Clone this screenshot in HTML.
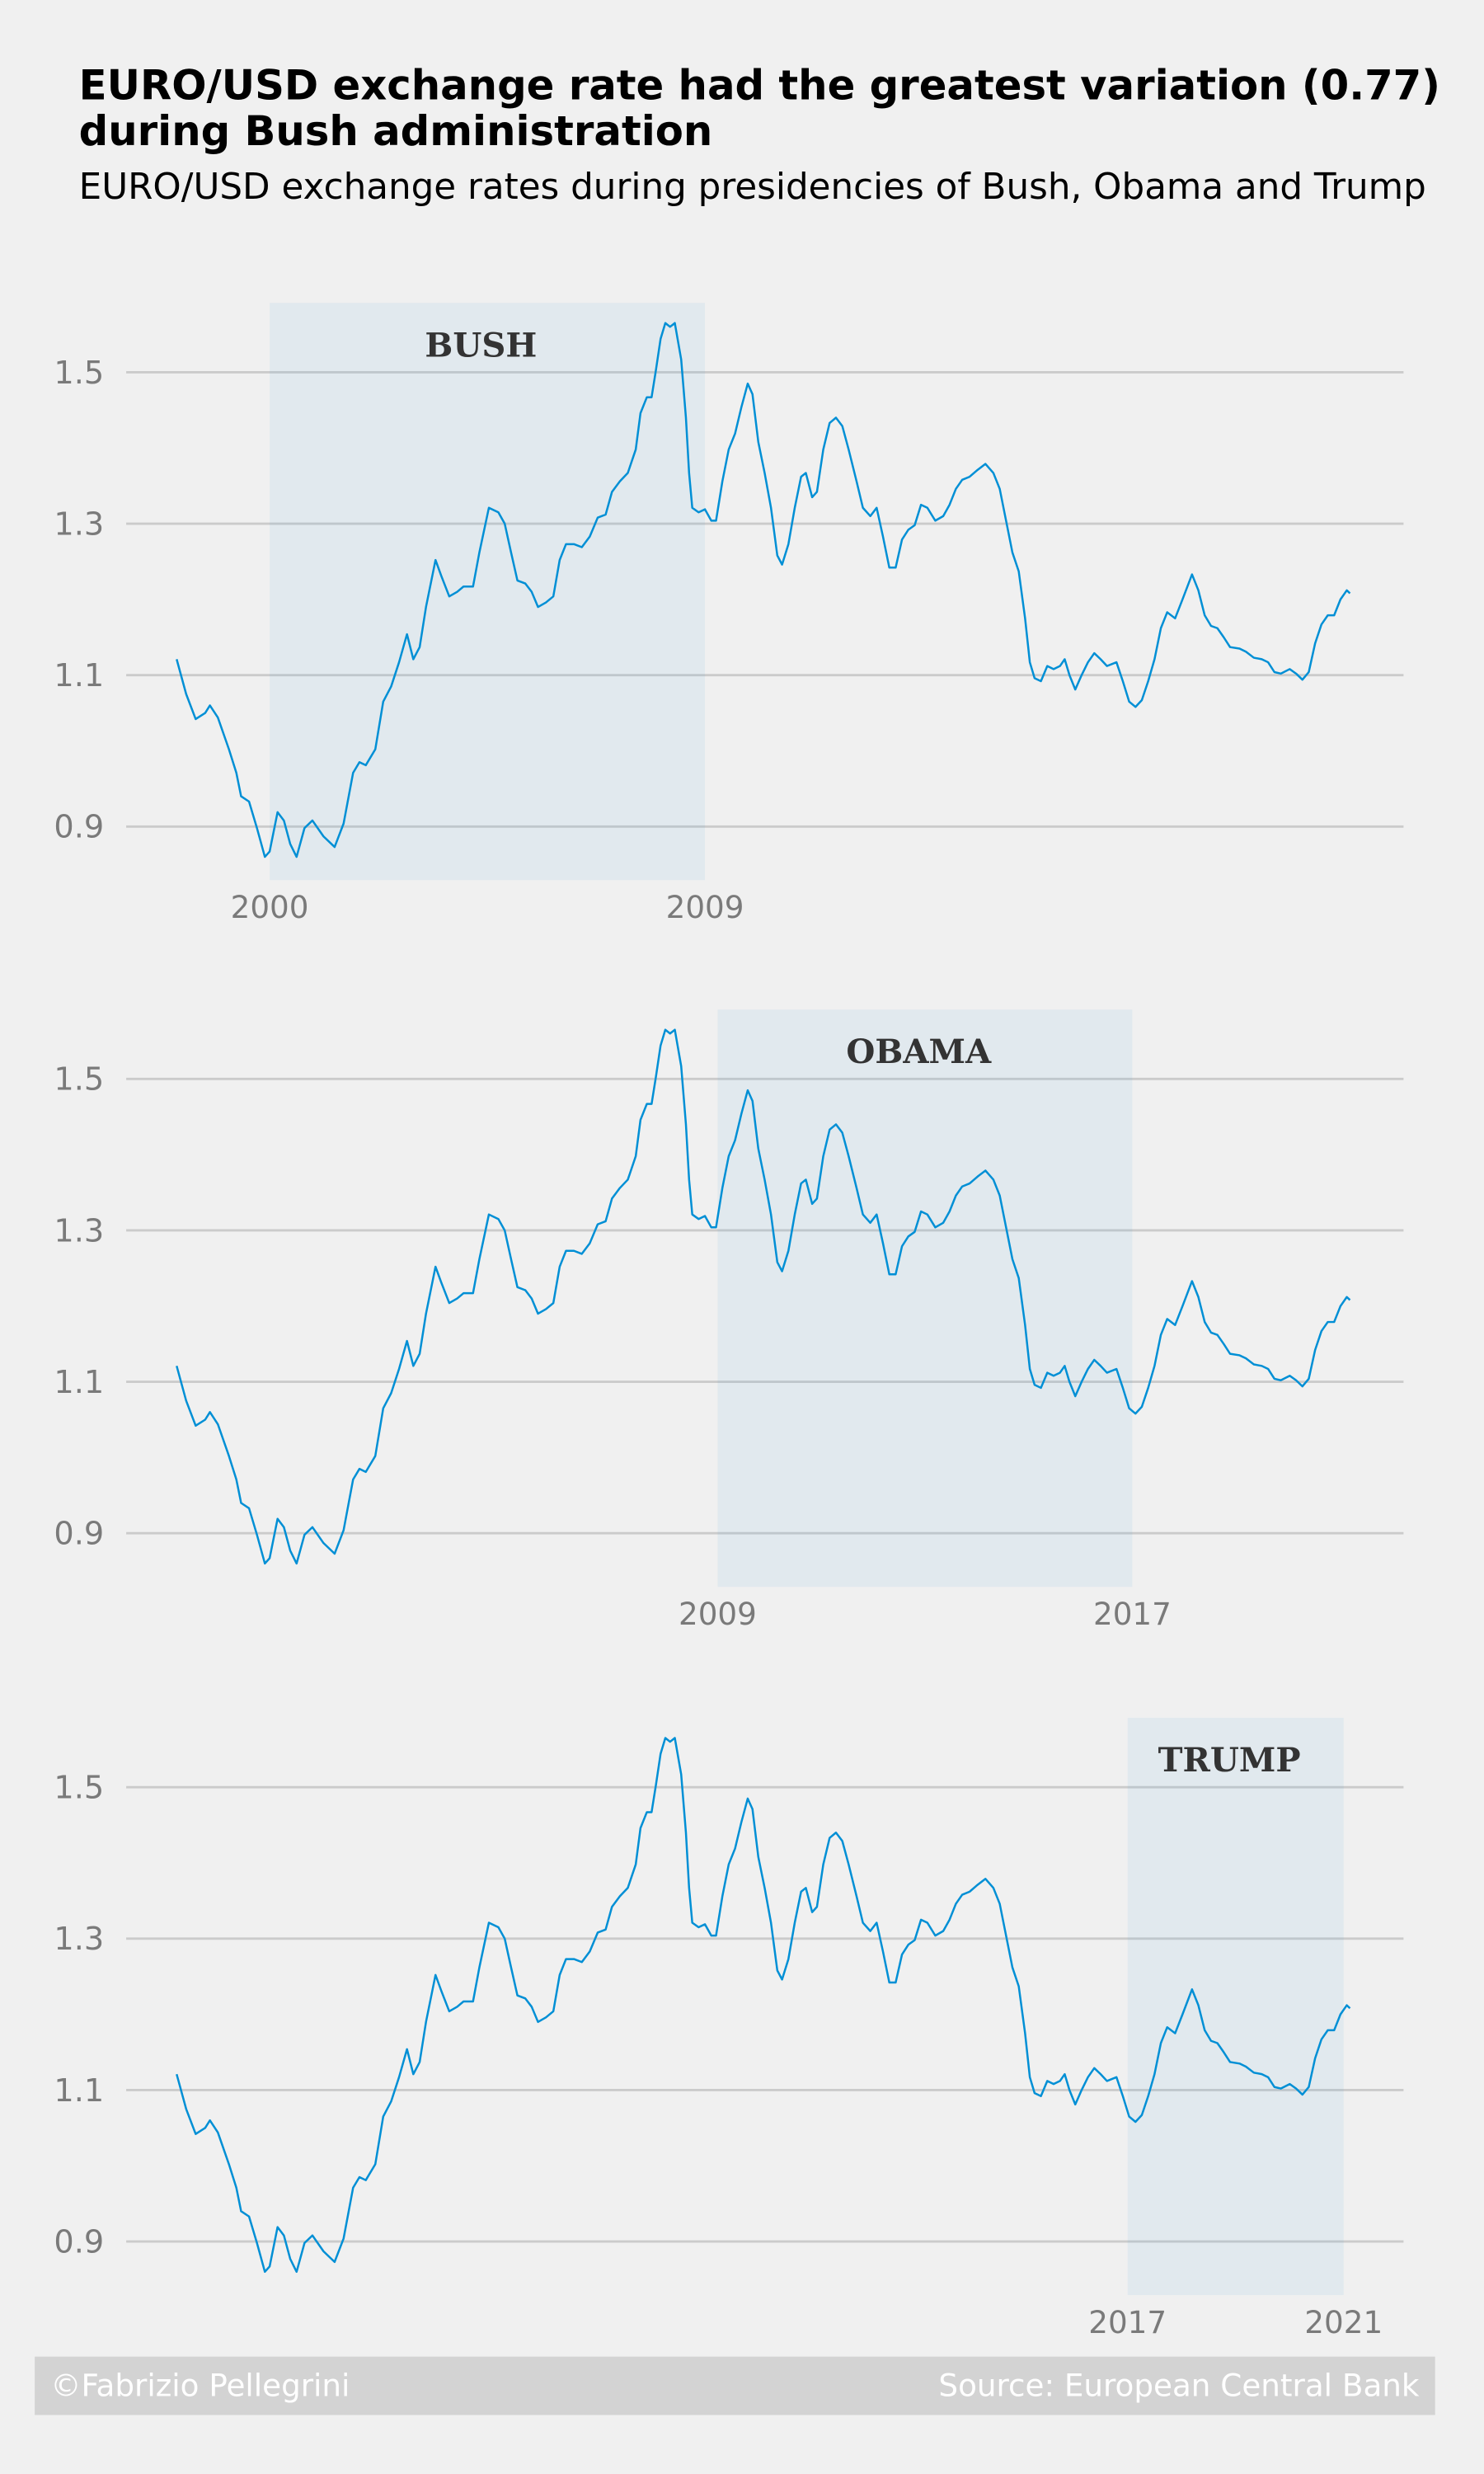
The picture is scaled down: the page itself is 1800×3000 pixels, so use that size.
<!DOCTYPE html>
<html><head><meta charset="utf-8"><style>
html,body{margin:0;padding:0;background:#f0f0f0;}
svg{display:block;font-family:"DejaVu Sans","Liberation Sans",sans-serif;}
</style></head><body>
<svg id="chart" width="1800" height="3000" viewBox="0 0 941 1568.4" xmlns="http://www.w3.org/2000/svg">
<rect x="0" y="0" width="941" height="1568.4" fill="#f0f0f0"/>
<text x="50" y="63" font-size="26" font-weight="bold" fill="#000">EURO/USD exchange rate had the greatest variation (0.77)</text>
<text x="50" y="92" font-size="26" font-weight="bold" fill="#000">during Bush administration</text>
<text x="50" y="126" font-size="22.8" fill="#000">EURO/USD exchange rates during presidencies of Bush, Obama and Trump</text>
<g id="panels"></g>
<rect x="22" y="1494" width="888" height="37" fill="#d3d3d3"/>
<text x="32" y="1519" font-size="19.5" fill="#fff">©Fabrizio Pellegrini</text>
<text x="900" y="1519" font-size="19.5" fill="#fff" text-anchor="end">Source: European Central Bank</text>
</svg>
<script>
const yearsSinceEuroLaunch = [0,.18,.36,.54,.63,.78,.99,1.13,1.22,1.37,1.52,1.67,1.76,1.91,2.03,2.15,2.27,2.42,2.57,2.78,2.99,3.16,3.34,3.46,3.58,3.76,3.91,4.06,4.21,4.36,4.48,4.60,4.72,4.90,5.01,5.16,5.31,5.43,5.61,5.73,5.91,6.09,6.21,6.33,6.45,6.60,6.72,6.84,6.99,7.13,7.25,7.37,7.52,7.67,7.82,7.97,8.12,8.24,8.39,8.54,8.69,8.78,8.90,8.99,9.07,9.16,9.25,9.34,9.43,9.55,9.64,9.70,9.76,9.88,10.00,10.12,10.21,10.33,10.45,10.57,10.69,10.81,10.90,11.01,11.13,11.25,11.37,11.46,11.58,11.70,11.82,11.91,12.03,12.12,12.24,12.36,12.48,12.60,12.72,12.87,12.99,13.13,13.25,13.37,13.49,13.61,13.73,13.85,13.97,14.09,14.21,14.36,14.51,14.63,14.75,14.87,15.01,15.16,15.31,15.46,15.58,15.70,15.82,15.94,16.06,16.15,16.24,16.36,16.48,16.60,16.72,16.81,16.90,17.01,17.13,17.25,17.37,17.49,17.61,17.79,17.91,18.03,18.15,18.27,18.39,18.51,18.63,18.75,18.90,19.04,19.22,19.34,19.46,19.58,19.70,19.82,19.94,20.12,20.24,20.39,20.54,20.66,20.78,20.90,21.07,21.19,21.31,21.43,21.55,21.67,21.79,21.91,22.03,22.15,22.21];
const rates = [1.121,1.075,1.042,1.05,1.06,1.044,1.002,0.971,0.94,0.933,0.898,0.86,0.867,0.919,0.908,0.877,0.86,0.898,0.908,0.887,0.873,0.904,0.971,0.985,0.981,1.002,1.065,1.085,1.117,1.154,1.121,1.137,1.19,1.252,1.231,1.204,1.21,1.217,1.217,1.262,1.321,1.315,1.3,1.262,1.225,1.221,1.21,1.19,1.196,1.204,1.252,1.273,1.273,1.269,1.283,1.308,1.312,1.342,1.356,1.367,1.398,1.446,1.467,1.467,1.502,1.544,1.565,1.56,1.565,1.517,1.44,1.367,1.321,1.315,1.319,1.304,1.304,1.356,1.398,1.419,1.454,1.485,1.471,1.408,1.367,1.321,1.258,1.246,1.273,1.321,1.362,1.367,1.335,1.342,1.398,1.433,1.44,1.429,1.398,1.356,1.321,1.31,1.321,1.283,1.242,1.242,1.279,1.292,1.298,1.325,1.321,1.304,1.31,1.325,1.346,1.358,1.362,1.371,1.379,1.367,1.346,1.304,1.262,1.237,1.175,1.117,1.096,1.092,1.112,1.108,1.112,1.121,1.1,1.081,1.1,1.117,1.129,1.121,1.112,1.117,1.092,1.065,1.058,1.067,1.092,1.121,1.162,1.183,1.175,1.2,1.233,1.212,1.179,1.165,1.162,1.15,1.137,1.135,1.131,1.123,1.121,1.117,1.104,1.102,1.108,1.102,1.094,1.104,1.142,1.167,1.179,1.179,1.2,1.212,1.208];
const yTicks = [0.9, 1.1, 1.3, 1.5];
const presidents = ["BUSH", "OBAMA", "TRUMP"];
const termStart = [1.76, 10.24, 18.0];
const termEnd = [10.0, 18.09, 22.09];
const startLabels = ["2000", "2009", "2017"];
const endLabels = ["2009", "2017", "2021"];

const NS = "http://www.w3.org/2000/svg";
const xs = t => 112 + t * 33.5;
const panelOffsets = [0, 448, 897];
const g = document.getElementById('panels');
function mk(tag, attrs, parent) {
  const e = document.createElementNS(NS, tag);
  for (const k in attrs) e.setAttribute(k, attrs[k]);
  parent.appendChild(e);
  return e;
}
presidents.forEach((name, i) => {
  const off = panelOffsets[i];
  const ys = v => 236 + off + (1.5 - v) * 480;
  const pg = mk('g', {}, g);
  
  
  yTicks.forEach(v => {
    const l = mk('line', {x1: 80, x2: 890, y1: ys(v), y2: ys(v), stroke: '#cbcbcb', 'stroke-width': 1.5}, pg);
    
    
    const t = mk('text', {x: 66, y: ys(v) + 7, 'font-size': 20, fill: '#7a7a7a', 'text-anchor': 'end'}, pg);
    t.textContent = v.toFixed(1);
    
    
  });
  const x0 = xs(termStart[i]), x1 = xs(termEnd[i]);
  const band = mk('rect', {x: x0, y: 192 + off, width: x1 - x0, height: 366, fill: '#008fd5', 'fill-opacity': 0.06}, pg);
  
  
  const bl = mk('text', {x: (x0 + x1) / 2 - 4, y: 226 + off, 'font-size': 21, 'font-weight': 'bold', fill: '#333', 'text-anchor': 'middle', 'font-family': '"DejaVu Serif","Liberation Serif",serif'}, pg);
  bl.textContent = name;
  
  
  [[x0, startLabels[i]], [x1, endLabels[i]]].forEach(([x, s]) => {
    const t = mk('text', {x: x, y: 582 + off, 'font-size': 19.5, fill: '#7a7a7a', 'text-anchor': 'middle'}, pg);
    t.textContent = s;
    
    
  });
  const d = rates.map((v, j) => (j ? 'L' : 'M') + xs(yearsSinceEuroLaunch[j]).toFixed(2) + ',' + ys(v).toFixed(2)).join('');
  const p = mk('path', {d: d, fill: 'none', stroke: '#008fd5', 'stroke-width': 1.3, 'stroke-linejoin': 'round'}, pg);
  
  
});
</script>
</body></html>
